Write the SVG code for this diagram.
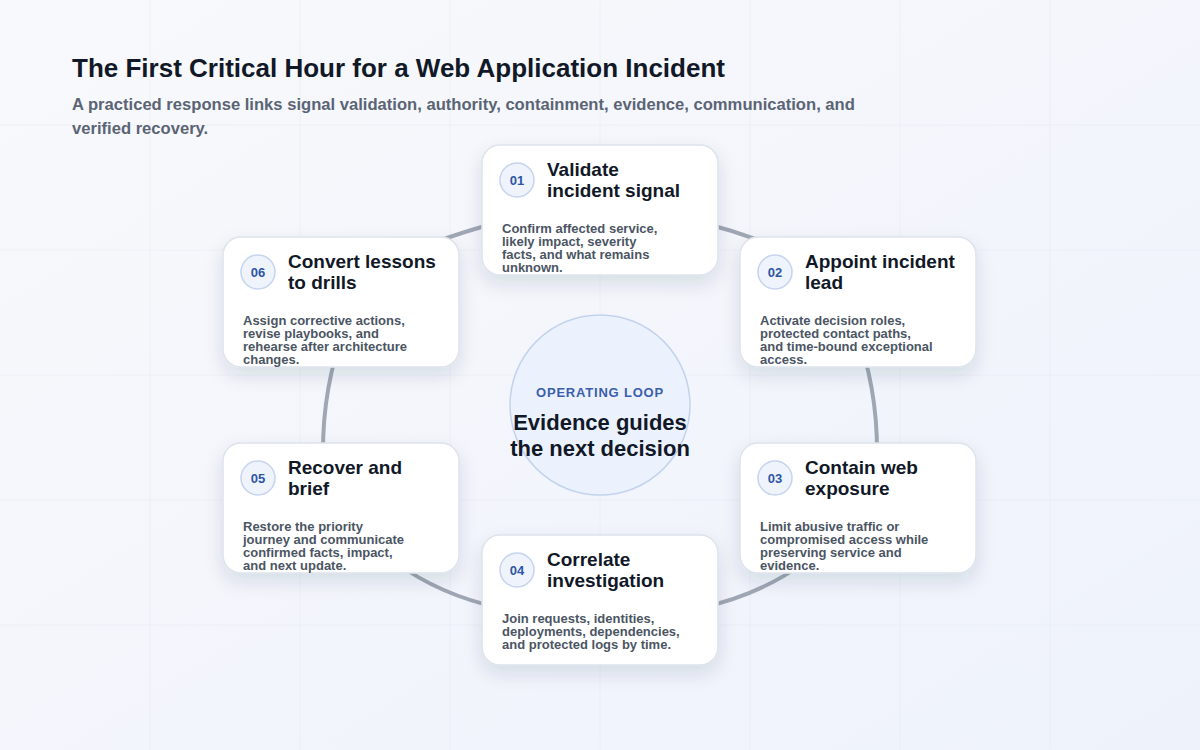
<svg xmlns="http://www.w3.org/2000/svg" width="1200" height="750" viewBox="0 0 1200 750">
  <defs>
    <linearGradient id="bg" x1="0" y1="0" x2="1" y2="1">
      <stop offset="0" stop-color="#f8f9fc"/>
      <stop offset="1" stop-color="#eef2fb"/>
    </linearGradient>
    <filter id="shadow" x="-30%" y="-30%" width="160%" height="170%">
      <feDropShadow dx="0" dy="8" stdDeviation="9" flood-color="#1e2a50" flood-opacity="0.12"/>
    </filter>
    <style>
      .grid { stroke: #e6eaf3; stroke-width: 1; opacity: 0.6; }
      .conn { fill: none; stroke: #a0a7b4; stroke-width: 4; stroke-linecap: round; }
      .card { fill: #ffffff; stroke: #dde3ec; stroke-width: 1.5; filter: url(#shadow); }
      .badge { fill: #eef3fc; stroke: #c7d4ee; stroke-width: 1.5; }
      .num { font-family: "Liberation Sans", Arial, sans-serif; font-size: 13px; font-weight: 700; fill: #2f56a6; text-anchor: middle; }
      .ttl { font-family: "Liberation Sans", Arial, sans-serif; font-size: 19px; font-weight: 700; fill: #111827; }
      .desc { font-family: "Liberation Sans", Arial, sans-serif; font-size: 13px; font-weight: 700; fill: #4b5563; }
      .h1 { font-family: "Liberation Sans", Arial, sans-serif; font-size: 26px; font-weight: 700; fill: #111827; }
      .sub { font-family: "Liberation Sans", Arial, sans-serif; font-size: 16.6px; font-weight: 700; fill: #5b6475; }
      .eyebrow { font-family: "Liberation Sans", Arial, sans-serif; font-size: 13px; font-weight: 700; fill: #3b5fae; letter-spacing: 0.8px; text-anchor: middle; }
      .core { font-family: "Liberation Sans", Arial, sans-serif; font-size: 22px; font-weight: 700; fill: #111827; text-anchor: middle; }
    </style>
  </defs>

  <rect x="0" y="0" width="1200" height="750" fill="url(#bg)"/>
  <g id="grid">
    <line class="grid" x1="150" y1="0" x2="150" y2="750"/>
    <line class="grid" x1="300" y1="0" x2="300" y2="750"/>
    <line class="grid" x1="450" y1="0" x2="450" y2="750"/>
    <line class="grid" x1="600" y1="0" x2="600" y2="750"/>
    <line class="grid" x1="750" y1="0" x2="750" y2="750"/>
    <line class="grid" x1="900" y1="0" x2="900" y2="750"/>
    <line class="grid" x1="1050" y1="0" x2="1050" y2="750"/>
    <line class="grid" x1="0" y1="125" x2="1200" y2="125"/>
    <line class="grid" x1="0" y1="250" x2="1200" y2="250"/>
    <line class="grid" x1="0" y1="375" x2="1200" y2="375"/>
    <line class="grid" x1="0" y1="500" x2="1200" y2="500"/>
    <line class="grid" x1="0" y1="625" x2="1200" y2="625"/>
  </g>

  <g id="header">
    <text class="h1" x="72" y="77">The First Critical Hour for a Web Application Incident</text>
    <text class="sub" x="72" y="110">A practiced response links signal validation, authority, containment, evidence, communication, and</text>
    <text class="sub" x="72" y="134">verified recovery.</text>
  </g>

  <g id="connectors">
    <path class="conn" d="M 700 222 Q 735 231 770 244"/>
    <path class="conn" d="M 859.6 340 A 356 356 0 0 1 876.4 470"/>
    <path class="conn" d="M 805 562 Q 760 595 700 608"/>
    <path class="conn" d="M 500 608 Q 440 595 395 562"/>
    <path class="conn" d="M 323.6 470 A 356 356 0 0 1 340.4 340"/>
    <path class="conn" d="M 430 244 Q 465 231 500 222"/>
  </g>

  <g id="center">
    <circle cx="600" cy="405" r="90" fill="#ecf2fd" stroke="#c3d3ee" stroke-width="1.5"/>
    <text class="eyebrow" x="600" y="397">OPERATING LOOP</text>
    <text class="core" x="600" y="430">Evidence guides</text>
    <text class="core" x="600" y="456">the next decision</text>
  </g>

  <g id="node-01" transform="translate(482,145)">
    <rect class="card" x="0" y="0" width="236" height="130" rx="18"/>
    <circle class="badge" cx="35" cy="35" r="17"/>
    <text class="num" x="35" y="39.5">01</text>
    <text class="ttl" x="65" y="30.5">Validate</text>
    <text class="ttl" x="65" y="51.5">incident signal</text>
    <text class="desc" x="20" y="88">Confirm affected service,</text>
    <text class="desc" x="20" y="101">likely impact, severity</text>
    <text class="desc" x="20" y="114">facts, and what remains</text>
    <text class="desc" x="20" y="127">unknown.</text>
  </g>

  <g id="node-02" transform="translate(740,237)">
    <rect class="card" x="0" y="0" width="236" height="130" rx="18"/>
    <circle class="badge" cx="35" cy="35" r="17"/>
    <text class="num" x="35" y="39.5">02</text>
    <text class="ttl" x="65" y="30.5">Appoint incident</text>
    <text class="ttl" x="65" y="51.5">lead</text>
    <text class="desc" x="20" y="88">Activate decision roles,</text>
    <text class="desc" x="20" y="101">protected contact paths,</text>
    <text class="desc" x="20" y="114">and time-bound exceptional</text>
    <text class="desc" x="20" y="127">access.</text>
  </g>

  <g id="node-03" transform="translate(740,443)">
    <rect class="card" x="0" y="0" width="236" height="130" rx="18"/>
    <circle class="badge" cx="35" cy="35" r="17"/>
    <text class="num" x="35" y="39.5">03</text>
    <text class="ttl" x="65" y="30.5">Contain web</text>
    <text class="ttl" x="65" y="51.5">exposure</text>
    <text class="desc" x="20" y="88">Limit abusive traffic or</text>
    <text class="desc" x="20" y="101">compromised access while</text>
    <text class="desc" x="20" y="114">preserving service and</text>
    <text class="desc" x="20" y="127">evidence.</text>
  </g>

  <g id="node-04" transform="translate(482,535)">
    <rect class="card" x="0" y="0" width="236" height="130" rx="18"/>
    <circle class="badge" cx="35" cy="35" r="17"/>
    <text class="num" x="35" y="39.5">04</text>
    <text class="ttl" x="65" y="30.5">Correlate</text>
    <text class="ttl" x="65" y="51.5">investigation</text>
    <text class="desc" x="20" y="88">Join requests, identities,</text>
    <text class="desc" x="20" y="101">deployments, dependencies,</text>
    <text class="desc" x="20" y="114">and protected logs by time.</text>
  </g>

  <g id="node-05" transform="translate(223,443)">
    <rect class="card" x="0" y="0" width="236" height="130" rx="18"/>
    <circle class="badge" cx="35" cy="35" r="17"/>
    <text class="num" x="35" y="39.5">05</text>
    <text class="ttl" x="65" y="30.5">Recover and</text>
    <text class="ttl" x="65" y="51.5">brief</text>
    <text class="desc" x="20" y="88">Restore the priority</text>
    <text class="desc" x="20" y="101">journey and communicate</text>
    <text class="desc" x="20" y="114">confirmed facts, impact,</text>
    <text class="desc" x="20" y="127">and next update.</text>
  </g>

  <g id="node-06" transform="translate(223,237)">
    <rect class="card" x="0" y="0" width="236" height="130" rx="18"/>
    <circle class="badge" cx="35" cy="35" r="17"/>
    <text class="num" x="35" y="39.5">06</text>
    <text class="ttl" x="65" y="30.5">Convert lessons</text>
    <text class="ttl" x="65" y="51.5">to drills</text>
    <text class="desc" x="20" y="88">Assign corrective actions,</text>
    <text class="desc" x="20" y="101">revise playbooks, and</text>
    <text class="desc" x="20" y="114">rehearse after architecture</text>
    <text class="desc" x="20" y="127">changes.</text>
  </g>
</svg>
